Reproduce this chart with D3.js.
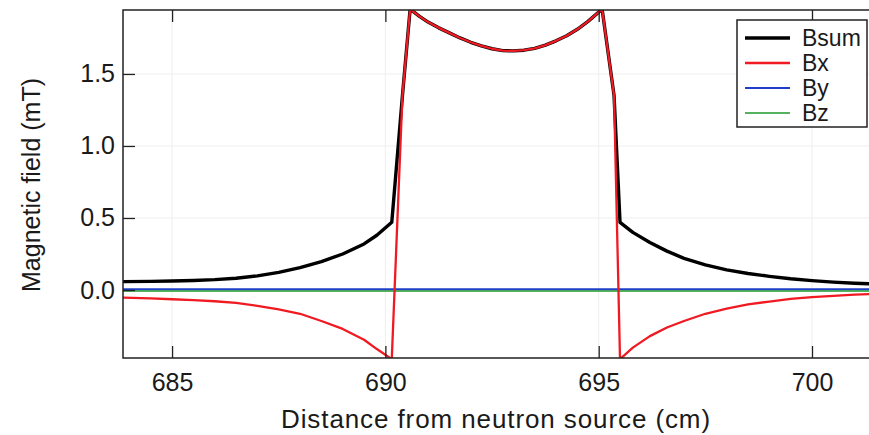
<!DOCTYPE html>
<html>
<head>
<meta charset="utf-8">
<script src="https://cdn.jsdelivr.net/npm/d3@7"></script>
<style>
  body { margin: 0; background: #fff; }
  text { font-family: "Liberation Sans", Arial, sans-serif; fill: #1a1a1a; }
</style>
</head>
<body>
<svg id="chart" width="869" height="435"></svg>
<script>
// distance from neutron source (cm), shared by Bsum and Bx
var distance = [683.8, 684.5, 685, 685.5, 686, 686.5, 687, 687.5, 688, 688.5, 689, 689.5, 689.8, 690.15,
  690.4, 690.58, 690.8, 691, 691.25, 691.5, 691.75, 692, 692.25, 692.5, 692.75, 693, 693.25, 693.5,
  693.75, 694, 694.25, 694.5, 694.75, 695.08, 695.36, 695.5, 695.8, 696.2, 696.6, 697, 697.5, 698,
  698.5, 699, 699.5, 700, 700.5, 701, 701.5];

var bsum = [0.058, 0.060, 0.063, 0.066, 0.072, 0.082, 0.098, 0.122, 0.155, 0.197, 0.25, 0.32, 0.38, 0.47,
  1.35, 1.95, 1.90, 1.86, 1.82, 1.785, 1.75, 1.72, 1.695, 1.675, 1.662, 1.66, 1.665, 1.678,
  1.70, 1.73, 1.765, 1.81, 1.865, 1.95, 1.35, 0.47, 0.40, 0.33, 0.27, 0.22, 0.175, 0.14,
  0.115, 0.095, 0.078, 0.065, 0.055, 0.047, 0.042];

var bx = [-0.052, -0.058, -0.064, -0.070, -0.078, -0.090, -0.110, -0.135, -0.165, -0.215, -0.27, -0.345, -0.41, -0.48,
  1.35, 1.95, 1.90, 1.86, 1.82, 1.785, 1.75, 1.72, 1.695, 1.675, 1.662, 1.66, 1.665, 1.678,
  1.70, 1.73, 1.765, 1.81, 1.865, 1.95, 1.35, -0.48, -0.40, -0.32, -0.26, -0.215, -0.165, -0.13,
  -0.10, -0.08, -0.062, -0.05, -0.04, -0.032, -0.027];

// By and Bz stay flat near zero
var flatDistance = [683.8, 688, 692, 696, 701.5];
var by = [0.005, 0.005, 0.005, 0.005, 0.005];
var bz = [-0.007, -0.007, -0.007, -0.007, -0.007];

var xTicks = [685, 690, 695, 700];
var yTicks = [0.0, 0.5, 1.0, 1.5];
var seriesNames = ["Bsum", "Bx", "By", "Bz"];
var seriesColors = ["#000000", "#f01a22", "#1f3fc8", "#1c9a2a"];
var seriesWidths = [3.4, 2.3, 2, 1.6];

var margin = { left: 123, top: 10, bottom: 77 };
var width = 753, height = 348;

var svg = d3.select("#chart");
var g = svg.append("g").attr("transform", "translate(" + margin.left + "," + margin.top + ")");

var x = d3.scaleLinear().domain([683.85, 701.5]).range([0, width]);
var y = d3.scaleLinear().domain([-0.472, 1.944]).range([height, 0]);

// faint grid
g.selectAll("line.vgrid").data(xTicks).enter().append("line")
  .attr("x1", x).attr("x2", x).attr("y1", 0).attr("y2", height)
  .attr("stroke", "#eeeeee").attr("stroke-width", 1);
g.selectAll("line.hgrid").data(yTicks).enter().append("line")
  .attr("y1", y).attr("y2", y).attr("x1", 0).attr("x2", width)
  .attr("stroke", "#eeeeee").attr("stroke-width", 1);

g.append("clipPath").attr("id", "plotClip")
  .append("rect").attr("width", width).attr("height", height);

var line = d3.line()
  .x(function (d) { return x(d[0]); })
  .y(function (d) { return y(d[1]); });

var series = [
  d3.zip(flatDistance, by),
  d3.zip(flatDistance, bz),
  d3.zip(distance, bsum),
  d3.zip(distance, bx)
];
var order = [2, 3, 0, 1]; // By, Bz underneath, then Bsum, Bx on top

var lines = g.append("g").attr("clip-path", "url(#plotClip)");
series.forEach(function (data, i) {
  var k = order[i];
  lines.append("path")
    .datum(data)
    .attr("d", line)
    .attr("fill", "none")
    .attr("stroke", seriesColors[k])
    .attr("stroke-width", seriesWidths[k])
    .attr("stroke-linejoin", "round");
});

// axes, ticks pointing inward
var xAxisG = g.append("g").attr("transform", "translate(0," + height + ")")
  .call(d3.axisBottom(x).tickValues(xTicks).tickSize(-12).tickPadding(15).tickFormat(d3.format("d")));
var topAxisG = g.append("g")
  .call(d3.axisTop(x).tickValues(xTicks).tickSize(-12).tickFormat(""));
var yAxisG = g.append("g")
  .call(d3.axisLeft(y).tickValues(yTicks).tickSize(-12).tickPadding(8).tickFormat(d3.format(".1f")));

[xAxisG, topAxisG, yAxisG].forEach(function (a) {
  a.select(".domain").remove();
  a.selectAll(".tick line").attr("stroke", "#222").attr("stroke-width", 1.3);
  a.selectAll(".tick text").attr("font-size", 25).attr("fill", "#1a1a1a")
    .style("font-family", "'Liberation Sans', Arial, sans-serif");
});

// frame: left, top, bottom (right side falls outside the picture)
g.append("path")
  .attr("d", "M" + (width + 10) + ",0H0V" + height + "H" + (width + 10))
  .attr("fill", "none").attr("stroke", "#222").attr("stroke-width", 1.5);

svg.append("text")
  .attr("x", 496).attr("y", 428)
  .attr("text-anchor", "middle").attr("font-size", 26)
  .attr("letter-spacing", "0.9px")
  .text("Distance from neutron source (cm)");

svg.append("text")
  .attr("transform", "translate(40,185) rotate(-90)")
  .attr("text-anchor", "middle").attr("font-size", 25)
  .text("Magnetic field (mT)");

// legend
var legend = svg.append("g").attr("transform", "translate(737,20)");
legend.append("rect").attr("width", 130).attr("height", 107)
  .attr("fill", "#fff").attr("stroke", "#222").attr("stroke-width", 1.5);
var items = legend.selectAll("g.item").data(seriesNames).enter().append("g")
  .attr("transform", function (d, i) { return "translate(0," + (18 + i * 25) + ")"; });
items.append("line")
  .attr("x1", 8).attr("x2", 53)
  .attr("stroke", function (d, i) { return seriesColors[i]; })
  .attr("stroke-width", function (d, i) { return seriesWidths[i]; });
items.append("text")
  .attr("x", 65).attr("dy", "0.36em").attr("font-size", 23)
  .text(function (d) { return d; });
</script>
</body>
</html>
